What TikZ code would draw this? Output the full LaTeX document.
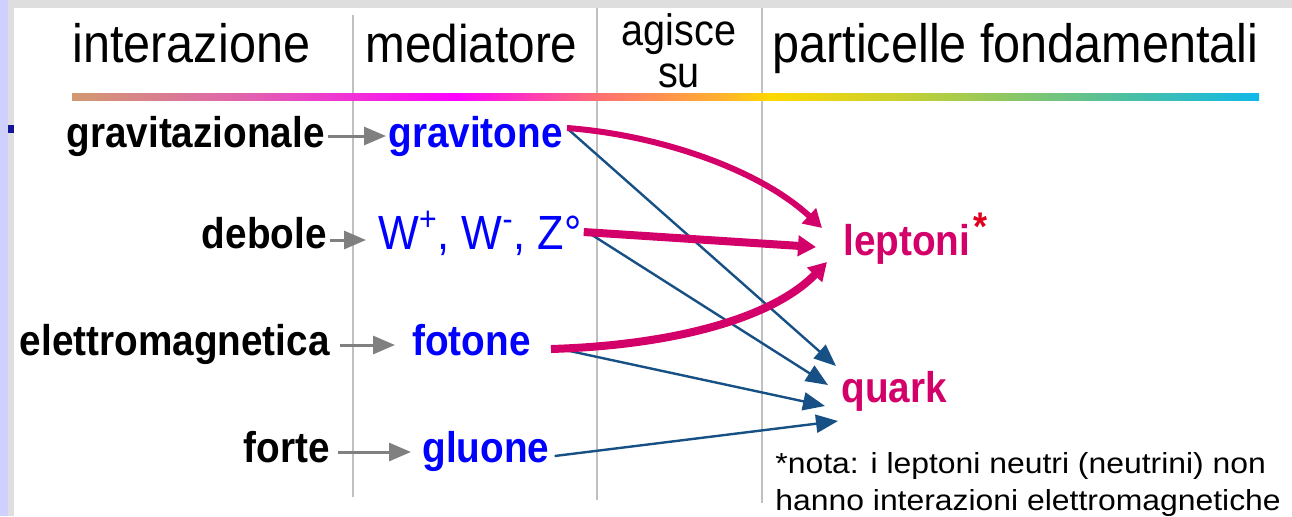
\documentclass[tikz,border=0pt]{standalone}
\usepackage{fontspec}
\setmainfont{Liberation Sans}[FakeStretch=0.9]
\newfontfamily\notefont{Liberation Sans}[FakeStretch=1.1]
\usetikzlibrary{arrows.meta}
\definecolor{medblue}{RGB}{0,0,255}
\definecolor{pmag}{RGB}{212,0,106}
\definecolor{starred}{RGB}{224,0,30}
\definecolor{arrgray}{RGB}{128,128,128}
\definecolor{lblue}{RGB}{22,80,132}
\definecolor{linegray}{RGB}{192,192,192}
\definecolor{topgray}{RGB}{222,222,222}
\definecolor{lav}{RGB}{208,208,255}
\definecolor{navy}{RGB}{20,20,150}
\definecolor{g1}{RGB}{210,154,112}
\definecolor{g2}{RGB}{226,96,176}
\definecolor{g3}{RGB}{255,0,255}
\definecolor{g4}{RGB}{255,112,112}
\definecolor{g5}{RGB}{255,176,48}
\definecolor{g6}{RGB}{255,216,0}
\definecolor{g7}{RGB}{200,208,48}
\definecolor{g8}{RGB}{144,200,96}
\definecolor{g9}{RGB}{80,192,160}
\definecolor{g10}{RGB}{16,184,232}
\begin{document}
\begin{tikzpicture}[x=0.5pt,y=-0.5pt,
  hdr/.style={font=\fontsize{27}{30}\selectfont, inner sep=0},
  lbl/.style={font=\fontsize{21.5}{24}\selectfont\bfseries, inner sep=0, anchor=base east},
  med/.style={font=\fontsize{21.5}{24}\selectfont\bfseries, text=medblue, inner sep=0, anchor=base west},
  part/.style={font=\fontsize{21.5}{24}\selectfont\bfseries, text=pmag, inner sep=0, anchor=base west},
  grayarr/.style={draw=arrgray, line width=1.5pt, -{Triangle[length=11pt,width=9pt]}},
  magarr/.style={draw=pmag, line width=3pt, -{Triangle[length=9pt,width=10pt]}},
  bluearr/.style={draw=lblue, line width=1.2pt, -{Triangle[length=11pt,width=9pt]}},
  vline/.style={draw=linegray, line width=1pt}]
\useasboundingbox (0,0) rectangle (1292,516);
\fill[white] (0,0) rectangle (1292,516);
\fill[topgray] (0,0) rectangle (1292,8);
\fill[lav] (0,0) rectangle (8,516);
\fill[topgray] (8,8) rectangle (14,516);
\fill[navy] (8,125) rectangle (14,133);
% column lines
\draw[vline] (353,15) -- (353,497);
\draw[vline] (597,8) -- (597,500);
\draw[vline] (762,8) -- (762,503);
% gradient bar
\shade[left color=g1,right color=g2] (72,93) rectangle (250,100);
\shade[left color=g2,right color=g3] (249.5,93) rectangle (456,100);
\shade[left color=g3,right color=g4] (455.5,93) rectangle (600,100);
\shade[left color=g4,right color=g5] (599.5,93) rectangle (720,100);
\shade[left color=g5,right color=g6] (719.5,93) rectangle (770,100);
\shade[left color=g6,right color=g7] (769.5,93) rectangle (900,100);
\shade[left color=g7,right color=g8] (899.5,93) rectangle (1000,100);
\shade[left color=g8,right color=g9] (999.5,93) rectangle (1120,100);
\shade[left color=g9,right color=g10] (1119.5,93) rectangle (1259,100);
% headers
\node[hdr, anchor=base west] (hint) at (72,62) {interazione};
\node[hdr, font=\fontsize{26.5}{30}\selectfont, anchor=base west] (hmed) at (365,62) {mediatore};
\node[hdr, font=\fontsize{22}{21}\selectfont, align=center, anchor=base] (hag) at (679,87) {agisce\\su};
\node[hdr, anchor=base west] (hpart) at (772,62) {particelle fondamentali};
% interactions
\node[lbl] (grav) at (325,147) {gravitazionale};
\node[lbl] (deb) at (327,248) {debole};
\node[lbl] (elm) at (330,355) {elettromagnetica};
\node[lbl] (forte) at (330,462) {forte};
% mediators
\node[med] (gton) at (388,147) {gravitone};
\node[med, font=\fontsize{24}{26}\selectfont] (wz) at (378,249) {W\textsuperscript{+}, W\textsuperscript{-}, Z°};
\node[med] (fot) at (412,355) {fotone};
\node[med] (glu) at (422,462) {gluone};
% particles
\node[part] (lep) at (843,255) {leptoni};
\node[inner sep=0, anchor=base west, text=starred, font=\fontsize{20}{22}\selectfont\bfseries] (star) at (973,240) {*};
\node[part] (quark) at (841,402) {quark};
\node[inner sep=0, anchor=base west, font=\notefont\fontsize{14.5}{16}\selectfont] (note1) at (775,473) {*nota: i leptoni neutri (neutrini) non};
\node[inner sep=0, anchor=base west, font=\notefont\fontsize{14.5}{16}\selectfont] (note2) at (775,510) {hanno interazioni elettromagnetiche};
% gray arrows
\draw[grayarr] ([shift={(3,-11)}]grav.base east) -- ([shift={(-2,-11)}]gton.base west);
\draw[grayarr] ([shift={(3,-8)}]deb.base east) -- ([shift={(-12,-9)}]wz.base west);
\draw[grayarr] ([shift={(10,-10)}]elm.base east) -- ([shift={(-17,-10)}]fot.base west);
\draw[grayarr] ([shift={(8,-10)}]forte.base east) -- ([shift={(-11,-10)}]glu.base west);
% blue arrows to quark
\draw[bluearr] ([shift={(6,-17)}]gton.base east) -- ([shift={(-5,-36)}]quark.base west);
\draw[bluearr] ([shift={(4,-18)}]wz.base east) -- ([shift={(-13,-17)}]quark.base west);
\draw[bluearr] ([shift={(20,-8)}]fot.base east) -- ([shift={(-16,4)}]quark.base west);
\draw[bluearr] ([shift={(5,-6)}]glu.base east) -- ([shift={(-3,19)}]quark.base west);
% magenta arrows to leptoni
\draw[magarr] ([shift={(4,-19)}]gton.base east) .. controls (660,135) and (760,170) .. ([shift={(-21,-27)}]lep.base west);
\draw[magarr, line width=4pt] ([shift={(2,-17)}]wz.base east) -- ([shift={(-27,-8)}]lep.base west);
\draw[magarr, line width=4pt] ([shift={(20,-6)}]fot.base east) .. controls (680,345) and (775,316) .. ([shift={(-16,7)}]lep.base west);
\end{tikzpicture}
\end{document}
